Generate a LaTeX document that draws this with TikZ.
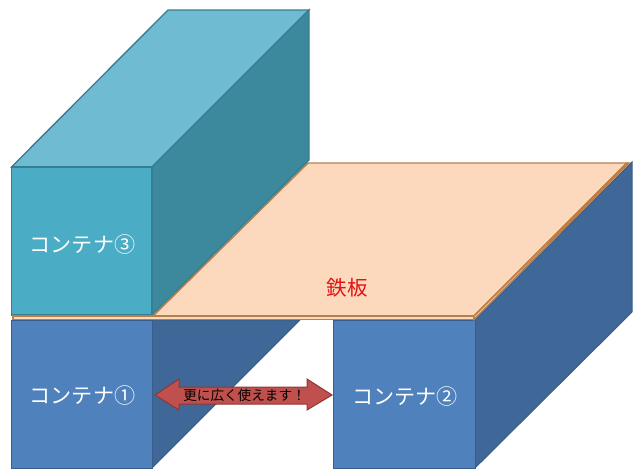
\documentclass[tikz,border=0pt]{standalone}
\usepackage{fontspec}
\newfontfamily\jpfont{Noto Sans CJK JP}
\definecolor{blueFront}{RGB}{79,129,189}
\definecolor{blueSide}{RGB}{63,103,151}
\definecolor{blueLine}{RGB}{56,93,138}
\definecolor{tealFront}{RGB}{75,172,198}
\definecolor{tealTop}{RGB}{111,187,210}
\definecolor{tealSide}{RGB}{60,137,158}
\definecolor{tealLine}{RGB}{53,125,145}
\definecolor{plateFill}{RGB}{252,217,189}
\definecolor{plateLine}{RGB}{186,126,72}
\definecolor{arrowFill}{RGB}{192,80,77}
\definecolor{arrowLine}{RGB}{140,56,54}
\tikzset{
  bluebox/.style={draw=blueLine,line width=0.75pt,fill=#1},
  tealbox/.style={draw=tealLine,line width=1pt,fill=#1},
  plate/.style={draw=plateLine,line width=1.1pt,fill=plateFill},
  boxlabel/.style={inner sep=0.75pt,text=white,font=\jpfont\fontsize{15.8}{18}\selectfont},
}
\begin{document}
\begin{tikzpicture}[x=0.75pt,y=0.75pt,yscale=-1,xscale=1]
\useasboundingbox (0,0) rectangle (640,475);

%Shape: Plate top
\draw [plate]  (153,316) -- (308,163) -- (627,163) -- (474,316) -- cycle ;
%Shape: Container 3
\draw [tealbox=tealTop]  (11.5,167) -- (168,10) -- (309,10) -- (152,167) -- cycle ;
\draw [tealbox=tealSide]  (152,167) -- (309,10) -- (309,160) -- (152,315) -- cycle ;
\draw [tealbox=tealFront]  (11.5,167) -- (152,167) -- (152,315) -- (11.5,315) -- cycle ;
%Shape: Container 1
\draw [bluebox=blueSide]  (152,320) -- (300,320) -- (152,468) -- cycle ;
\draw [bluebox=blueFront]  (11.5,320) -- (152,320) -- (152,468) -- (11.5,468) -- cycle ;
%Shape: Container 2
\draw [bluebox=blueSide]  (475,320) -- (632,162) -- (632,312) -- (475,468) -- cycle ;
\draw [bluebox=blueFront]  (333.5,320) -- (475,320) -- (475,468) -- (333.5,468) -- cycle ;
%Shape: Plate edges
\draw [plate]  (13,316) -- (474,316) -- (474,319.5) -- (13,319.5) -- cycle ;
\draw [plate]  (474,316) -- (627,163) -- (629,163) -- (474,319.5) -- cycle ;
%Shape: Double arrow
\draw [draw=arrowLine,line width=0.75pt,fill=arrowFill]  (155,395) -- (179,379) -- (179,387) -- (307,387) -- (307,379) -- (332,395) -- (307,410) -- (307,404) -- (179,404) -- (179,410) -- cycle ;

% Text Node
\node [boxlabel] (label3) at (82.5,244) {コンテナ③};
% Text Node
\node [boxlabel] (label1) at (82.5,395) {コンテナ①};
% Text Node
\node [boxlabel] (label2) at (405,396) {コンテナ②};
% Text Node
\node [inner sep=0.75pt,text={rgb,255:red,225;green,20;blue,20},font=\jpfont\fontsize{15.4}{18}\selectfont] (plateLabel) at (347,288) {鉄板};
% Text Node
\node [inner sep=0.75pt,font=\jpfont\fontsize{10.2}{12}\selectfont] (arrowLabel) at (244.5,395) {更に広く使えます！};

\end{tikzpicture}
\end{document}
